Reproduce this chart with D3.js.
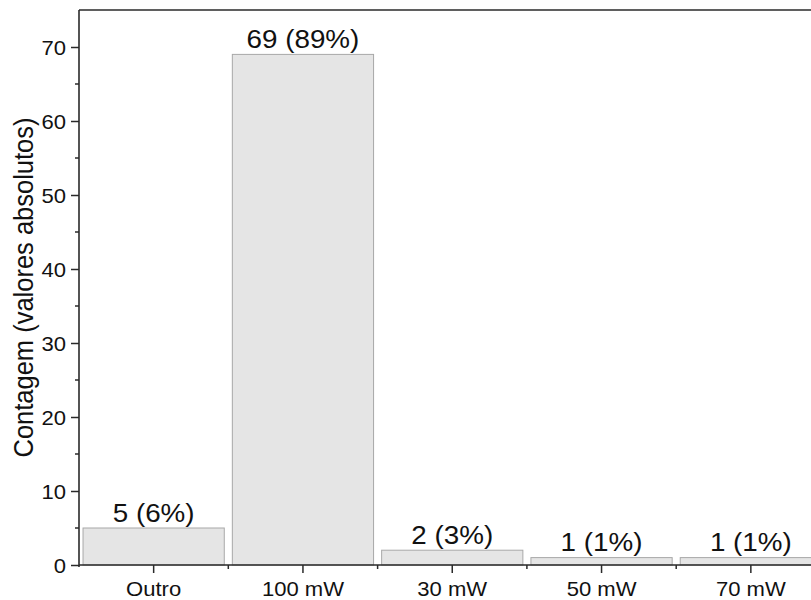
<!DOCTYPE html>
<html><head><meta charset="utf-8">
<script src="https://cdn.jsdelivr.net/npm/d3@7"></script>
<style>body{margin:0;background:#fff}svg{display:block}text{font-family:"Liberation Sans",Arial,sans-serif;fill:#111}</style>
</head><body><svg id="c" width="811" height="600"></svg>
<script>
const categories = ["Outro","100 mW","30 mW","50 mW","70 mW"];
const counts = [5,69,2,1,1];
const percents = [6,89,3,1,1];
const yMajorTicks = [0,10,20,30,40,50,60,70];
const yMinorTicks = [5,15,25,35,45,55,65];
const yTitle = "Contagem (valores absolutos)";

const svg = d3.select("#c");
const L = 79, T = 10, B = 565, step = 149.3;
const x = d3.scaleBand().domain(categories).range([L, L + step*categories.length]).paddingInner(0.054).paddingOuter(0.027);
const y = d3.scaleLinear().domain([0,75]).range([B, T]);
const axisColor = "#2a2a2a";

// bars
svg.append("g").selectAll("rect").data(categories).join("rect")
  .attr("x", d => x(d)).attr("width", x.bandwidth())
  .attr("y", (d,i) => y(counts[i])).attr("height", (d,i) => y(0) - y(counts[i]))
  .attr("fill", "#e5e5e5").attr("stroke", "#a8a8a8").attr("stroke-width", 1);

// bar labels
svg.append("g").selectAll("text").data(categories).join("text")
  .attr("transform", (d,i) => `translate(${x(d)+x.bandwidth()/2},${y(counts[i])-6.5}) scale(1.07,1)`)
  .attr("text-anchor","middle").attr("font-size", 26)
  .text((d,i) => `${counts[i]} (${percents[i]}%)`);

// y axis
const gy = svg.append("g").attr("transform", `translate(${L},0)`)
  .call(d3.axisLeft(y).tickValues(yMajorTicks).tickSize(8).tickSizeOuter(0).tickFormat(d3.format("d")));
gy.select(".domain").remove();
gy.selectAll(".tick line").attr("stroke", axisColor).attr("stroke-width", 1.5);
gy.selectAll(".tick text").attr("font-size", 21).attr("x", null).attr("dy", null)
  .attr("transform", `translate(-13,1) scale(1.05,1)`).attr("dominant-baseline","central").attr("fill","#111");
svg.append("g").selectAll("line").data(yMinorTicks).join("line")
  .attr("x1", L-4).attr("x2", L).attr("y1", d => y(d)).attr("y2", d => y(d))
  .attr("stroke", axisColor).attr("stroke-width", 1.5);

// x axis
const gx = svg.append("g").attr("transform", `translate(0,${B})`)
  .call(d3.axisBottom(x).tickSize(8).tickSizeOuter(0));
gx.select(".domain").remove();
gx.selectAll(".tick line").attr("stroke", axisColor).attr("stroke-width", 1.5);
gx.selectAll(".tick text").attr("font-size", 21).attr("y", null).attr("dy", null)
  .attr("transform", `translate(0,31) scale(1.05,1)`).attr("fill","#111");
svg.append("g").selectAll("line").data(categories.slice(1)).join("line")
  .attr("x1", d => x(d) - x.step()*0.027).attr("x2", d => x(d) - x.step()*0.027)
  .attr("y1", B).attr("y2", B+4).attr("stroke", axisColor).attr("stroke-width", 1.5);

// frame lines
svg.append("line").attr("x1", L).attr("x2", 811).attr("y1", B).attr("y2", B).attr("stroke", axisColor).attr("stroke-width", 1.6);
svg.append("line").attr("x1", L).attr("x2", 811).attr("y1", T).attr("y2", T).attr("stroke", axisColor).attr("stroke-width", 1.6);
svg.append("line").attr("x1", L).attr("x2", L).attr("y1", T).attr("y2", B+2).attr("stroke", axisColor).attr("stroke-width", 1.6);

// y title
svg.append("text").attr("transform", `translate(33,${(T+B)/2}) scale(1.06,1) rotate(-90)`)
  .attr("text-anchor","middle").attr("font-size", 25.5).text(yTitle);
</script></body></html>
